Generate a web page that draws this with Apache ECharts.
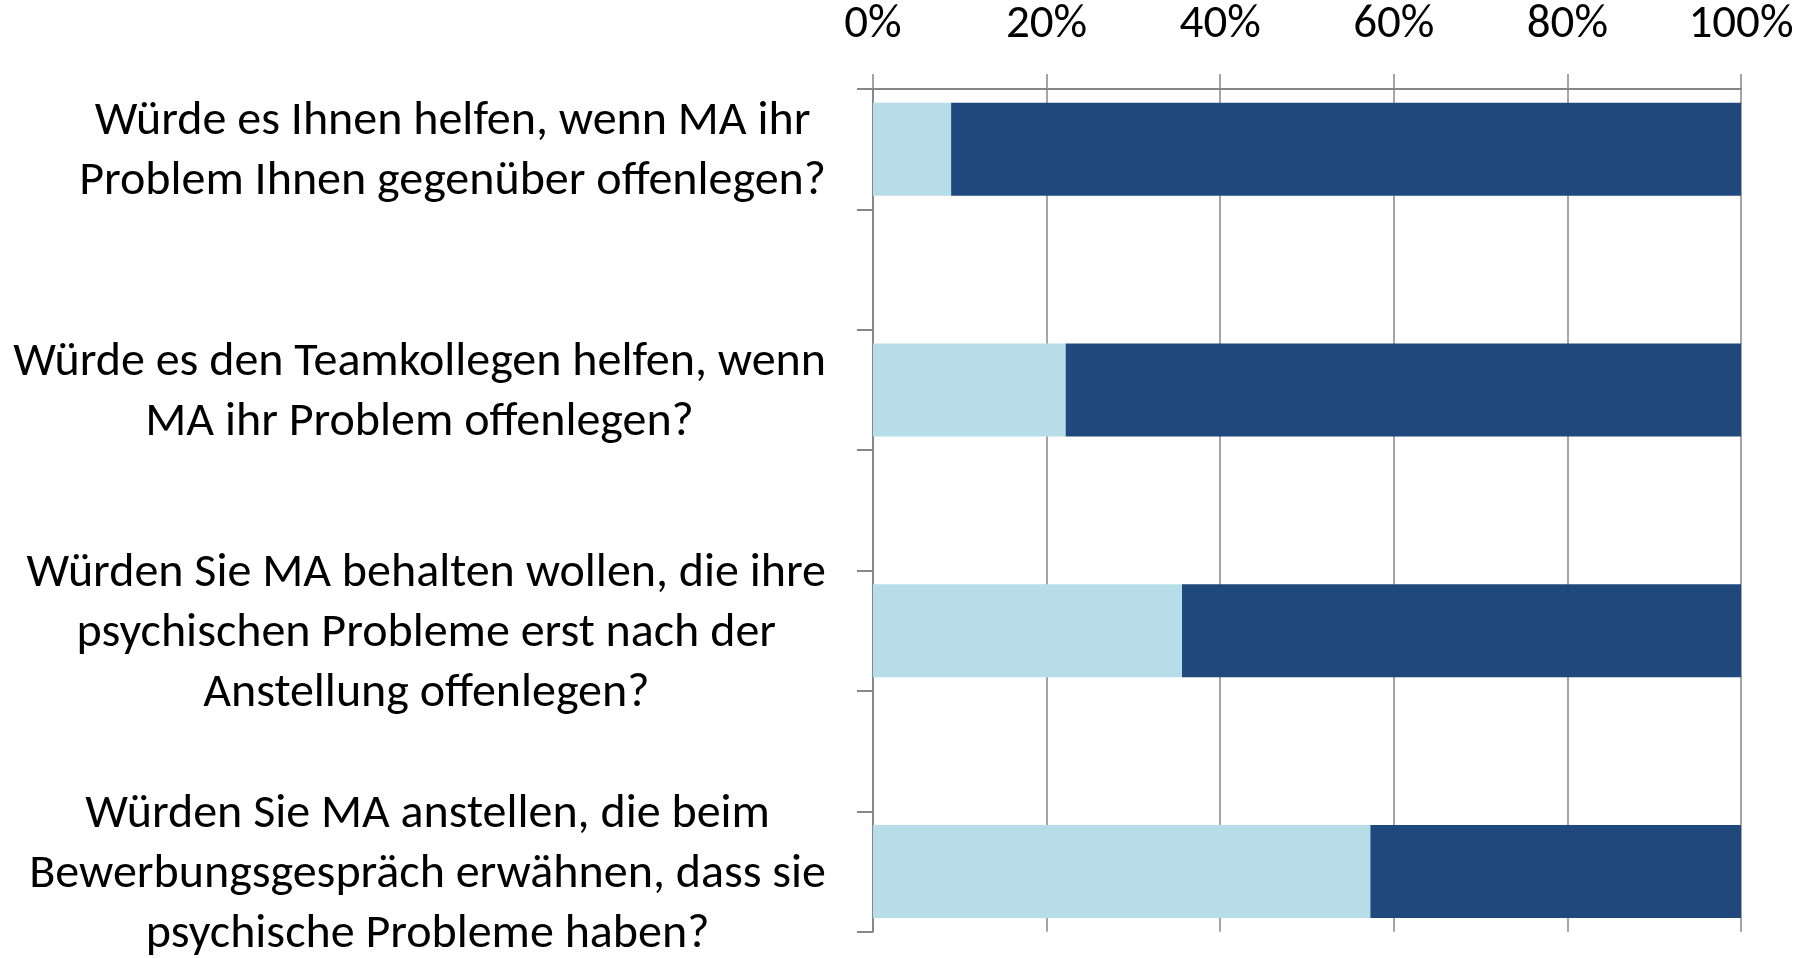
<!DOCTYPE html>
<html>
<head>
<meta charset="utf-8">
<script src="https://cdn.jsdelivr.net/npm/echarts@6/dist/echarts.min.js"></script>
<style>
html,body{margin:0;padding:0;background:#fff;}
#chart{width:1806px;height:958px;}
</style>
</head>
<body>
<div id="chart"></div>
<script>
// Questions (top to bottom), with manual line breaks as in the reference
var questions = [
  'Würde es Ihnen helfen, wenn MA ihr\nProblem Ihnen gegenüber offenlegen?',
  'Würde es den Teamkollegen helfen, wenn\nMA ihr Problem offenlegen?',
  'Würden Sie MA behalten wollen, die ihre\npsychischen Probleme erst nach der\nAnstellung offenlegen?',
  'Würden Sie MA anstellen, die beim\nBewerbungsgespräch erwähnen, dass sie\npsychische Probleme haben?'
];
// Share (%) of light segment per question
var lightValues = [9.0, 22.2, 35.6, 57.3];
// Share (%) of dark segment per question
var darkValues = [91.0, 77.8, 64.4, 42.7];
var xTickLabels = ['0%', '20%', '40%', '60%', '80%', '100%'];

// Build category list with blank spacer rows between questions
var categories = [];
var lightData = [];
var darkData = [];
questions.forEach(function (q, i) {
  if (i > 0) { categories.push(' '); lightData.push('-'); darkData.push('-'); }
  categories.push(q);
  lightData.push(lightValues[i]);
  darkData.push(darkValues[i]);
});

var FONT = 'Carlito, Lato, "Liberation Sans", sans-serif';
var AXIS_GRAY = '#878787';

var chart = echarts.init(document.getElementById('chart'), null, {renderer: 'canvas'});
chart.setOption({
  animation: false,
  backgroundColor: '#ffffff',
  grid: {left: 873, right: 65, top: 89, height: 850, containLabel: false},
  xAxis: {
    type: 'value',
    position: 'top',
    min: 0, max: 100, interval: 20,
    axisLine: {show: true, lineStyle: {color: AXIS_GRAY, width: 2}},
    axisTick: {show: true, inside: false, length: 15, lineStyle: {color: AXIS_GRAY, width: 1.5}},
    splitLine: {show: true, lineStyle: {color: AXIS_GRAY, width: 1.5}},
    axisLabel: {
      margin: 40,
      fontSize: 47, lineHeight: 47,
      fontFamily: FONT, color: '#000',
      formatter: function (v) { return xTickLabels[Math.round(v / 20)]; }
    }
  },
  yAxis: {
    type: 'category',
    inverse: true,
    data: categories,
    boundaryGap: true,
    axisLine: {show: true, lineStyle: {color: AXIS_GRAY, width: 2}},
    axisTick: {show: true, interval: 0, inside: false, length: 16, lineStyle: {color: AXIS_GRAY, width: 2}},
    splitLine: {show: false},
    axisLabel: {
      interval: 0,
      margin: 47,
      align: 'right',
      formatter: function (v) {
        return v.split('\n').map(function (l) { return '{c|' + l + '}'; }).join('\n');
      },
      rich: {
        c: {fontSize: 48, lineHeight: 60, fontFamily: FONT, color: '#000', align: 'center', padding: [6, 0, 0, 0]}
      }
    }
  },
  series: [
    {
      type: 'bar', stack: 'total', barWidth: 93, data: lightData,
      itemStyle: {color: '#B7DDE8'}
    },
    {
      type: 'bar', stack: 'total', barWidth: 93, data: darkData,
      itemStyle: {color: '#1F497D'}
    }
  ]
});
</script>
</body>
</html>
